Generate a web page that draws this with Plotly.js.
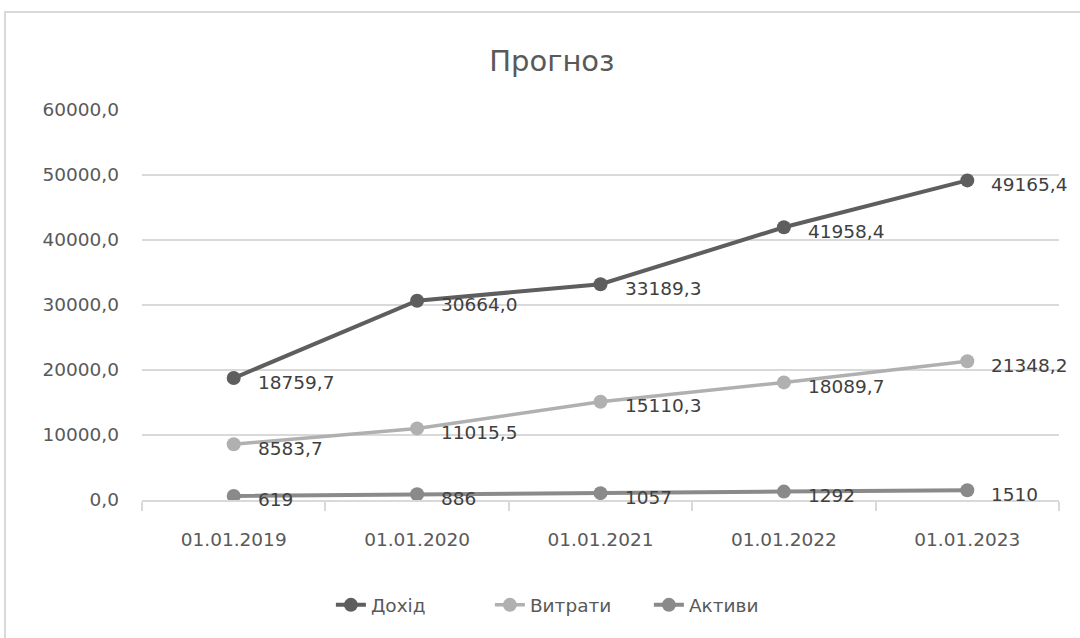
<!DOCTYPE html>
<html>
<head>
<meta charset="utf-8">
<script src="https://cdn.plot.ly/plotly-3.0.1.min.js"></script>
<style>
  html, body { margin: 0; padding: 0; background: #fff; }
  #wrap { position: relative; width: 1080px; height: 638px; overflow: hidden; }
  #frame { position: absolute; left: 4px; top: 11px; width: 1200px; height: 800px;
           border: 2px solid #d9d9d9; box-sizing: border-box; }
  #chart { position: absolute; left: 0; top: 0; width: 1080px; height: 638px; }
</style>
</head>
<body>
<div id="wrap">
  <div id="frame"></div>
  <div id="chart"></div>
</div>
<script>
const categories = ["01.01.2019", "01.01.2020", "01.01.2021", "01.01.2022", "01.01.2023"];
const seriesNames = ["Дохід", "Витрати", "Активи"];
const dokhid = [18759.7, 30664.0, 33189.3, 41958.4, 49165.4];
const vytraty = [8583.7, 11015.5, 15110.3, 18089.7, 21348.2];
const aktyvy = [619, 886, 1057, 1292, 1510];
const labelDecimals = [1, 1, 0];
const yTickVals = [0, 10000, 20000, 30000, 40000, 50000, 60000];

const seriesValues = [dokhid, vytraty, aktyvy];
const colors = ["#5e5e5e", "#b0b0b0", "#8a8a8a"];
const lineWidths = [4, 3.5, 4];
const fontFamily = "DejaVu Sans, sans-serif";

function fmt(v, d) { return v.toFixed(d).replace(".", ","); }

const traces = seriesValues.map((vals, i) => ({
  type: "scatter",
  mode: "lines+markers",
  name: seriesNames[i],
  x: categories,
  y: vals,
  line: { color: colors[i], width: lineWidths[i] },
  marker: { color: colors[i], size: 14 },
  hoverinfo: "skip"
}));

const annotations = [];
seriesValues.forEach((vals, i) => {
  vals.forEach((v, j) => {
    annotations.push({
      x: categories[j], y: v, xref: "x", yref: "y",
      text: fmt(v, labelDecimals[i]),
      showarrow: false, xanchor: "left", yanchor: "middle",
      xshift: 22, yshift: -4,
      font: { family: fontFamily, size: 18.5, color: "#404040" }
    });
  });
});

const layout = {
  width: 1080, height: 638,
  margin: { l: 142, r: 21, t: 110, b: 138 },
  paper_bgcolor: "rgba(0,0,0,0)",
  plot_bgcolor: "rgba(0,0,0,0)",
  title: {
    text: "Прогноз",
    font: { family: fontFamily, size: 29, color: "#595959" },
    xref: "container", x: 0.511, xanchor: "center",
    yref: "container", y: 0.905, yanchor: "middle"
  },
  xaxis: {
    type: "category",
    range: [-0.5, categories.length - 0.5],
    autorange: false,
    tickson: "boundaries",
    ticks: "outside", ticklen: 9, tickcolor: "#d9d9d9", tickwidth: 2,
    showline: true, linecolor: "#d9d9d9", linewidth: 2,
    showgrid: false, zeroline: false,
    ticklabelstandoff: 22,
    tickfont: { family: fontFamily, size: 18.5, color: "#595959" },
    fixedrange: true, automargin: false
  },
  yaxis: {
    range: [0, 60000],
    autorange: false,
    tickvals: yTickVals,
    ticktext: yTickVals.map(v => fmt(v, 1)),
    showgrid: true, gridcolor: "#d9d9d9", gridwidth: 2,
    zeroline: false, showline: false, ticks: "",
    ticklabelstandoff: 22,
    tickfont: { family: fontFamily, size: 18.5, color: "#595959" },
    fixedrange: true, automargin: false
  },
  showlegend: true,
  legend: {
    orientation: "h",
    xref: "paper", x: 0.206, xanchor: "left",
    yref: "paper", y: -0.27, yanchor: "middle",
    entrywidth: 114, entrywidthmode: "pixels",
    font: { family: fontFamily, size: 18.5, color: "#595959" },
    bgcolor: "rgba(0,0,0,0)",
    itemclick: false, itemdoubleclick: false
  },
  annotations: annotations
};

Plotly.newPlot("chart", traces, layout, { displayModeBar: false, staticPlot: true });
</script>
</body>
</html>
